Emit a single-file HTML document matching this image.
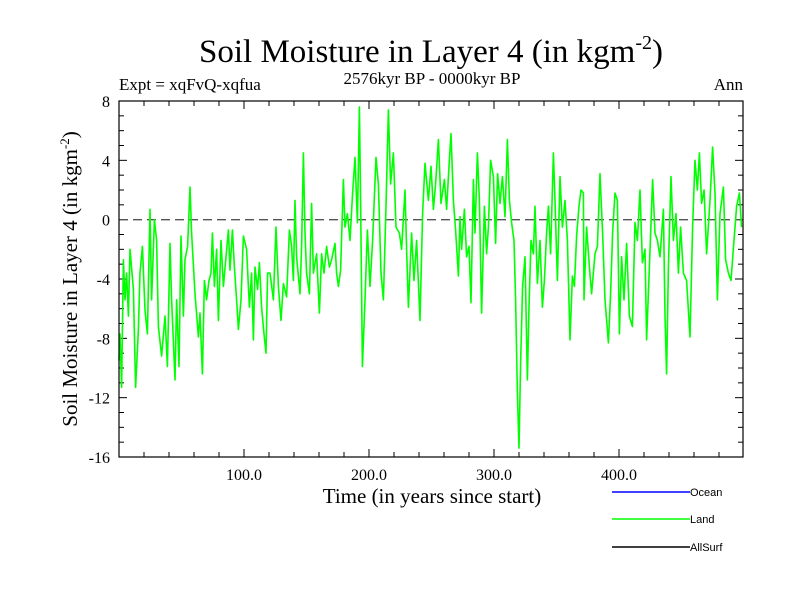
<!DOCTYPE html>
<html><head><meta charset="utf-8"><style>
body{margin:0;background:#fff;width:800px;height:600px;overflow:hidden}
svg text{font-family:"Liberation Serif",serif}
</style></head><body>
<svg id="c" width="800" height="600" xmlns="http://www.w3.org/2000/svg">
<text x="431" y="62" font-size="33" text-anchor="middle">Soil Moisture in Layer 4 (in kgm<tspan font-size="20" dy="-13">-2</tspan><tspan dy="13">)</tspan></text>
<text x="119" y="90" font-size="17">Expt = xqFvQ-xqfua</text>
<text x="432" y="84" font-size="17" text-anchor="middle">2576kyr BP - 0000kyr BP</text>
<text x="743" y="90" font-size="17" text-anchor="end">Ann</text>
<text x="432" y="503" font-size="21" text-anchor="middle">Time (in years since start)</text>
<text transform="translate(77,279) rotate(-90)" font-size="21" text-anchor="middle">Soil Moisture in Layer 4 (in kgm<tspan font-size="13" dy="-8">-2</tspan><tspan dy="8">)</tspan></text>
<g id="ticks"></g>
<line id="zero" stroke="#555" stroke-width="1.3" stroke-dasharray="9,5"/>
<polyline id="land" fill="none" stroke="#00ff00" stroke-width="1.6" stroke-linejoin="round"/>
<rect x="119" y="101" width="624" height="356" fill="none" stroke="#000" stroke-width="1.2"/>
<g>
<line x1="612" y1="492" x2="690" y2="492" stroke="#0000ff" stroke-width="1.5"/>
<text x="690" y="496" font-size="11" style="font-family:'Liberation Sans',sans-serif">Ocean</text>
<line x1="612" y1="519" x2="690" y2="519" stroke="#00ff00" stroke-width="1.5"/>
<text x="690" y="523" font-size="11" style="font-family:'Liberation Sans',sans-serif">Land</text>
<line x1="612" y1="547" x2="690" y2="547" stroke="#000" stroke-width="1.5"/>
<text x="690" y="551" font-size="11" style="font-family:'Liberation Sans',sans-serif">AllSurf</text>
</g>
</svg>
<script>
const years=[0,0.8,2.1,3.5,4.8,6.1,7.5,8.8,11.5,13.3,15.5,16.8,18.7,20.8,22.7,24.8,26.1,28.3,30.1,31.5,34.1,36.8,38.7,40.8,42.1,44.8,46.1,48.0,49.6,51.5,52.8,54.9,56.8,58.1,60.8,63.5,64.8,66.7,68.3,70.1,72.0,73.6,74.7,76.3,78.1,79.5,81.6,83.5,87.5,88.8,90.7,92.3,94.1,95.5,97.6,99.5,102.1,104.3,106.1,107.5,108.8,110.9,112.3,114.1,116.0,117.6,118.9,120.8,123.5,125.6,127.5,129.6,131.5,134.1,136.3,138.1,139.5,140.8,142.1,144.8,146.1,147.5,148.8,150.1,152.3,154.1,155.5,158.1,160.3,162.1,164.0,166.1,168.3,170.1,172.8,174.1,175.5,177.3,179.5,180.8,182.7,184.8,186.9,188.8,190.7,192.3,193.3,194.7,196.8,198.7,200.8,202.9,205.6,207.5,209.6,211.5,213.6,215.5,217.3,219.5,221.6,224.3,226.1,228.8,230.1,231.5,234.1,236.0,238.1,240.8,242.9,244.8,247.5,249.6,251.5,253.3,255.5,257.6,260.3,262.1,264.0,265.6,267.5,269.3,271.5,272.8,274.1,276.3,278.1,280.0,281.6,283.5,284.8,286.7,288.3,290.1,292.3,294.1,295.5,297.3,299.5,301.3,302.9,304.8,306.7,308.8,310.7,312.3,314.1,316.0,317.3,318.7,320.0,321.3,322.9,324.8,326.7,328.0,329.6,331.5,332.8,334.7,336.8,338.7,340.3,342.1,343.5,345.3,347.5,348.8,350.7,352.8,354.7,356.8,358.7,360.8,362.7,364.3,366.1,368.0,369.6,371.5,372.0,374.1,376.3,378.1,380.8,382.7,384.8,386.9,388.8,391.5,393.3,394.9,396.8,398.7,400.3,402.1,404.0,406.1,408.3,410.7,412.8,414.7,416.8,418.7,420.8,422.1,424.3,426.9,428.8,430.7,432.8,435.5,436.8,438.1,439.5,441.6,443.5,445.6,447.5,449.3,451.5,454.1,456.8,458.9,460.8,462.7,464.3,466.1,468.1,470.1,472.8,474.9,476.8,478.7,480.8,483.5,485.3,487.5,489.6,492.0,494.1,496.3,498.1];
const land=[-9.5,-7.7,-11.3,-2.7,-5.4,-3.6,-6.5,-2.0,-4.7,-11.3,-7.4,-3.6,-1.8,-6.1,-7.7,0.7,-5.4,0,-1.4,-7.2,-9.2,-6.5,-9.9,-1.6,-5.4,-10.8,-5.4,-9.9,-1.1,-6.5,-2.7,-1.8,2.2,-0.9,-5.0,-7.9,-6.3,-10.4,-4.1,-5.4,-4.1,-3.6,-0.9,-4.5,-2.0,-6.8,-1.4,-4.5,-0.7,-3.4,-0.7,-3.2,-5.4,-7.4,-5.4,-1.1,-2.0,-5.9,-3.6,-8.1,-3.2,-4.7,-2.9,-5.9,-7.7,-9.0,-3.6,-3.6,-5.4,-0.5,-4.5,-6.8,-4.3,-5.2,-0.7,-1.8,-4.1,1.3,-2.5,-5.0,-1.8,4.5,-0.9,-3.6,-5.0,1.1,-3.6,-2.3,-6.3,-2.3,-3.6,-1.8,-3.2,-2.7,-1.6,-3.6,-4.5,-3.4,2.7,-0.5,0.4,-1.4,1.8,4.2,-0.2,7.6,1.3,-9.9,-5.4,-0.7,-4.5,-1.4,4.2,2.4,-3.6,-5.4,0.9,7.4,2.4,4.5,-0.5,-0.9,-2.0,2.0,-2.0,-5.9,-0.9,-4.1,-1.4,-6.8,0.4,3.8,1.3,3.6,0.7,2.4,5.4,1.1,2.7,0.7,3.6,5.8,1.3,-0.7,-3.8,0.2,-2.0,0.7,-2.5,-1.8,-5.6,2.7,-0.9,4.5,1.3,-6.3,0.9,-2.3,-0.5,4.0,2.9,-1.6,3.1,1.1,2.9,0.2,5.4,1.3,-0.2,-1.4,-5.4,-11.7,-15.4,-9.7,-4.5,-2.5,-10.8,-5.9,-1.4,-2.3,0.9,-4.3,-1.4,-5.9,-4.1,-0.9,0.9,-2.3,4.5,1.3,-4.1,2.9,-0.5,1.3,-1.4,-8.1,-3.8,-4.5,-1.1,0.9,2.0,1.8,-5.4,-0.5,-3.2,-5.0,-2.3,-1.8,3.1,-0.9,-5.4,-8.3,-5.0,-0.9,1.8,1.3,-7.7,-2.5,-5.4,-1.6,-6.5,-7.2,-0.2,-1.4,2.0,-2.9,-2.0,-8.1,-3.2,2.7,-0.9,-1.4,-2.5,0.7,-6.5,-10.4,-3.2,2.9,-1.4,0.4,-3.6,-0.5,-3.6,-4.1,-7.9,-0.5,4.0,2.0,4.5,1.1,2.0,-2.3,1.3,4.9,1.8,-5.4,0.4,2.2,-2.7,-3.6,-4.1,-1.4,0.9,1.8,-0.5];
const xTickLabels=[100,200,300,400];
const yTickLabels=[8,4,0,-4,-8,-12,-16];
const X0=119,X1=743,Y0=101,Y1=457,XMAX=499.2,YMIN=-16,YMAX=8;
const xs=t=>X0+(t/XMAX)*(X1-X0);
const ys=v=>Y0+(YMAX-v)/(YMAX-YMIN)*(Y1-Y0);
const NS='http://www.w3.org/2000/svg';
const pl=document.getElementById('land');
pl.setAttribute('points',years.map((t,i)=>xs(t).toFixed(1)+','+ys(land[i]).toFixed(1)).join(' '));
const z=document.getElementById('zero');
z.setAttribute('x1',X0);z.setAttribute('x2',X1);z.setAttribute('y1',ys(0));z.setAttribute('y2',ys(0));
const g=document.getElementById('ticks');
function ln(x1,y1,x2,y2){const l=document.createElementNS(NS,'line');l.setAttribute('x1',x1);l.setAttribute('y1',y1);l.setAttribute('x2',x2);l.setAttribute('y2',y2);l.setAttribute('stroke','#000');l.setAttribute('stroke-width','1');


g.appendChild(l);}
for(let t=20;t<XMAX;t+=20){const x=xs(t),L=(t%100===0)?8:5;ln(x,Y1,x,Y1-L);ln(x,Y0,x,Y0+L);}
for(let v=YMIN+1;v<YMAX;v++){const y=ys(v),L=(v%4===0)?8:5;ln(X0,y,X0+L,y);ln(X1,y,X1-L,y);}
xTickLabels.forEach(v=>{const t=document.createElementNS(NS,'text');t.setAttribute('x',xs(v));t.setAttribute('y',480);t.setAttribute('font-size','16');t.setAttribute('text-anchor','middle');t.textContent=v.toFixed(1);


g.appendChild(t);});
yTickLabels.forEach(v=>{const t=document.createElementNS(NS,'text');t.setAttribute('x',110);t.setAttribute('y',ys(v)+6);t.setAttribute('font-size','16');t.setAttribute('text-anchor','end');t.textContent=v;


g.appendChild(t);});
</script>
</body></html>
